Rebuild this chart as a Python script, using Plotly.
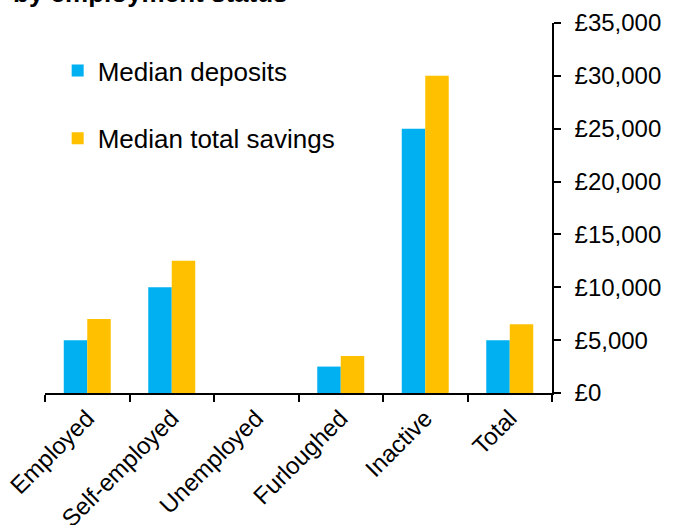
import plotly.graph_objects as go

categories = ["Employed", "Self-employed", "Unemployed", "Furloughed", "Inactive", "Total"]
median_deposits = [5000, 10000, 0, 2500, 25000, 5000]
median_total_savings = [7000, 12500, 0, 3500, 30000, 6500]
y_ticks = [0, 5000, 10000, 15000, 20000, 25000, 30000, 35000]
y_tick_labels = ["£0", "£5,000", "£10,000", "£15,000", "£20,000", "£25,000", "£30,000", "£35,000"]

FONT = "Arial, Liberation Sans, sans-serif"

fig = go.Figure()
fig.add_trace(go.Bar(
    x=categories, y=median_deposits, name="Median deposits",
    marker=dict(color="#00B0F0", line=dict(width=0)), legendgroup="a",
))
fig.add_trace(go.Bar(
    x=categories, y=median_total_savings, name="Median total savings",
    marker=dict(color="#FFC000", line=dict(width=0)), legendgroup="b",
))

# title sits mostly above the page, as in the source image
fig.add_annotation(
    text="<b>by employment status</b>", xref="paper", yref="paper",
    x=-0.067, y=1.081, xanchor="left", yanchor="middle", showarrow=False,
    font=dict(family=FONT, size=26, color="black"),
)

fig.update_layout(
    width=675, height=525,
    margin=dict(l=45, r=123, t=23, b=132),
    paper_bgcolor="white", plot_bgcolor="white",
    font=dict(family=FONT, size=24, color="black"),
    barmode="group", bargap=0.444, bargroupgap=0,
    showlegend=True,
    legend=dict(
        x=0.025, y=0.935, xanchor="left", yanchor="top",
        bgcolor="rgba(0,0,0,0)", font=dict(size=26),
        tracegroupgap=31, itemwidth=30,
    ),
    xaxis=dict(
        showline=True, linecolor="black", linewidth=1.5,
        ticks="outside", tickson="boundaries", ticklen=7, tickcolor="black", tickwidth=1.5,
        tickangle=-45, tickfont=dict(size=24), showgrid=False, automargin=False,
    ),
    yaxis=dict(
        side="right", range=[0, 35000], tickvals=y_ticks, ticktext=y_tick_labels,
        showline=True, linecolor="black", linewidth=1.5,
        ticks="outside", ticklen=7, tickcolor="black", tickwidth=1.5,
        ticklabelstandoff=9, showgrid=False, zeroline=False, tickfont=dict(size=24),
        automargin=False,
    ),
)

# drop the browser's default 8px body margin so the figure sits at the page corner
fig.write_html(
    "out.html",
    config={"displayModeBar": False},
    post_script="document.body.style.margin = '0';",
)
